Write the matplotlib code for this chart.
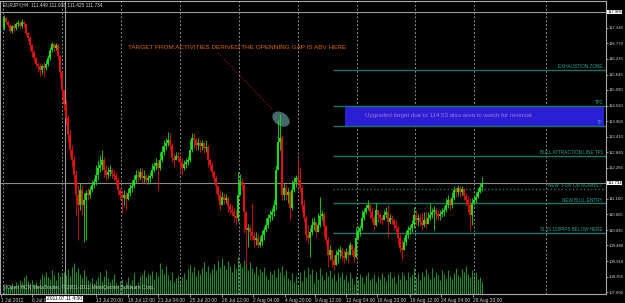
import matplotlib
matplotlib.use("Agg")
import matplotlib.pyplot as plt
import numpy as np
from matplotlib.patches import Rectangle, Ellipse
from matplotlib.transforms import ScaledTranslation, blended_transform_factory

plt.rcParams['font.family'] = ['Liberation Sans Narrow', 'Liberation Sans', 'DejaVu Sans']

# EURJPY H4, 1 Jul 2011 .. 26 Aug 2011
first_open = 117.33
closes = [
    117.69, 117.55, 117.44, 117.22, 117.40, 117.33, 117.47, 117.51, 117.40, 117.55,
    117.47, 117.15, 116.97, 116.72, 116.46, 116.25, 116.03, 115.96, 115.81, 115.96,
    115.89, 116.03, 116.25, 116.54, 116.75, 116.61, 116.72, 116.32, 115.74, 115.09,
    114.59, 114.08, 113.47, 112.93, 112.56, 112.02, 111.30, 110.94, 111.48, 110.94,
    111.12, 111.37, 111.30, 111.48, 111.66, 111.77, 112.02, 112.28, 112.38, 112.56,
    112.20, 112.02, 112.13, 112.20, 112.06, 111.99, 111.84, 111.48, 111.30, 111.19,
    111.30, 111.16, 111.37, 111.55, 111.63, 111.84, 112.02, 111.95, 112.13, 111.91,
    111.99, 111.84, 111.91, 111.99, 112.20, 112.35, 112.46, 112.28, 112.56, 112.85,
    113.07, 113.18, 113.29, 113.11, 112.64, 112.56, 112.71, 112.64, 112.49, 112.28,
    112.42, 112.49, 112.56, 112.93, 113.36, 113.29, 113.11, 113.18, 113.07, 113.18,
    113.00, 113.03, 112.56, 112.38, 112.13, 111.91, 111.63, 111.30, 110.94, 111.23,
    111.12, 111.19, 110.90, 110.76, 110.69, 110.54, 110.47, 111.30, 111.77, 111.66,
    110.69, 110.04, 110.11, 109.97, 109.82, 109.68, 109.75, 109.50, 109.60, 109.86,
    110.04, 110.22, 110.47, 110.58, 110.69, 110.94, 112.20, 113.21, 113.36, 111.30,
    111.55, 111.30, 111.41, 110.83, 111.48, 111.77, 111.91, 111.84, 111.55, 110.94,
    110.47, 109.86, 109.75, 109.97, 110.22, 110.33, 109.97, 110.22, 110.54, 110.61,
    110.18, 109.68, 109.13, 109.32, 108.95, 108.77, 109.13, 109.24, 109.32, 109.10,
    109.03, 109.24, 109.13, 109.50, 109.32, 109.06, 109.75, 109.97, 110.11, 110.47,
    110.69, 110.83, 110.94, 110.69, 110.47, 110.22, 110.76, 110.58, 110.47, 110.40,
    110.58, 110.69, 110.33, 110.47, 110.40, 110.22, 110.11, 109.75, 109.39, 109.32,
    109.60, 109.86, 110.04, 110.11, 110.25, 110.58, 110.40, 110.47, 110.33, 110.22,
    110.40, 110.25, 110.47, 110.58, 110.69, 110.76, 110.61, 110.54, 110.61, 110.69,
    110.76, 110.94, 111.12, 110.94, 111.19, 111.48, 111.41, 111.55, 111.41, 111.52,
    111.26, 111.12, 110.94, 110.58, 111.01, 111.12, 111.23, 111.41, 111.59, 111.73,
]
highs = [
    117.80, 117.73, 117.62, 117.47, 117.44, 117.51, 117.55, 117.62, 117.58, 117.65,
    117.58, 117.51, 117.18, 117.04, 116.75, 116.54, 116.28, 116.10, 116.07, 116.03,
    116.10, 116.17, 116.36, 116.64, 116.82, 116.79, 116.79, 116.75, 116.36, 115.81,
    114.80, 114.73, 114.19, 113.65, 113.11, 112.74, 112.20, 111.66, 111.73, 111.66,
    111.37, 111.48, 111.55, 111.63, 111.84, 111.91, 112.38, 112.56, 112.74, 112.93,
    112.67, 112.38, 112.31, 112.38, 112.28, 112.20, 112.13, 111.95, 111.55, 111.48,
    111.48, 111.41, 111.55, 111.70, 111.84, 112.02, 112.20, 112.20, 112.28, 112.28,
    112.20, 112.06, 112.02, 112.13, 112.46, 112.49, 112.64, 112.56, 112.85, 113.07,
    113.29, 113.36, 113.58, 113.54, 113.18, 112.82, 112.85, 112.85, 112.71, 112.64,
    112.56, 112.64, 112.71, 113.29, 113.54, 113.54, 113.36, 113.36, 113.29, 113.29,
    113.21, 113.29, 113.11, 112.64, 112.49, 112.20, 112.02, 111.66, 111.48, 111.41,
    111.37, 111.34, 111.26, 111.01, 110.94, 110.83, 110.76, 112.13, 112.06, 111.91,
    111.73, 110.76, 110.25, 110.22, 111.01, 109.97, 109.97, 109.93, 109.82, 110.04,
    110.18, 110.47, 110.61, 110.76, 110.83, 111.12, 112.38, 114.01, 114.22, 113.47,
    111.73, 111.66, 111.55, 111.48, 111.84, 111.95, 112.02, 112.67, 112.31, 111.66,
    111.12, 110.58, 110.22, 110.11, 110.47, 110.51, 110.33, 110.65, 111.23, 110.76,
    110.69, 110.22, 109.79, 109.50, 109.32, 109.13, 109.32, 109.39, 109.46, 109.42,
    109.32, 109.39, 109.32, 109.60, 109.53, 109.42, 110.15, 110.18, 110.22, 110.76,
    110.83, 110.98, 111.12, 110.98, 110.83, 110.58, 111.01, 110.76, 110.65, 110.58,
    110.76, 110.87, 110.94, 110.61, 110.58, 110.47, 110.40, 110.18, 109.89, 109.68,
    109.79, 110.04, 110.18, 110.22, 110.40, 110.87, 110.76, 110.61, 110.61, 110.69,
    110.69, 110.69, 110.69, 111.01, 110.83, 110.90, 110.83, 110.76, 110.76, 110.83,
    110.90, 111.19, 111.30, 111.19, 111.41, 111.63, 111.59, 111.66, 111.63, 111.63,
    111.55, 111.37, 111.26, 111.19, 111.19, 111.26, 111.41, 111.55, 111.73, 111.94,
]
lows = [
    117.26, 117.47, 117.37, 117.15, 117.15, 117.22, 117.26, 117.37, 117.33, 117.33,
    117.37, 117.08, 116.86, 116.54, 116.28, 116.10, 115.92, 115.74, 115.60, 115.67,
    115.56, 115.81, 115.96, 116.17, 116.46, 116.50, 116.54, 116.17, 115.52, 114.80,
    114.37, 113.83, 113.21, 112.67, 112.31, 111.66, 110.58, 109.68, 110.76, 110.58,
    109.60, 109.68, 111.12, 111.19, 111.41, 111.55, 111.66, 111.84, 112.13, 112.20,
    111.95, 111.84, 111.91, 111.99, 111.91, 111.84, 111.66, 111.30, 111.12, 110.65,
    110.94, 110.76, 111.12, 111.26, 111.41, 111.55, 111.73, 111.77, 111.84, 111.73,
    111.77, 111.70, 111.70, 111.77, 111.91, 112.13, 112.20, 111.48, 112.20, 112.49,
    112.74, 112.93, 113.07, 112.93, 112.49, 112.31, 112.56, 112.49, 112.09, 112.02,
    112.20, 112.28, 112.38, 112.49, 112.85, 113.00, 112.93, 112.93, 112.85, 112.93,
    112.82, 112.85, 112.31, 112.20, 111.99, 111.77, 111.37, 111.12, 110.76, 110.94,
    110.98, 111.01, 110.69, 110.61, 110.54, 110.33, 110.22, 110.33, 111.48, 111.48,
    109.93, 108.70, 109.42, 109.68, 109.68, 109.42, 109.50, 109.39, 109.42, 109.50,
    109.68, 109.97, 110.11, 110.33, 110.40, 110.54, 110.76, 112.20, 112.93, 111.12,
    111.12, 111.12, 111.01, 110.40, 110.76, 111.41, 111.59, 111.66, 111.41, 110.69,
    110.33, 109.68, 109.53, 109.06, 109.86, 110.04, 109.79, 110.04, 110.15, 110.40,
    109.79, 109.50, 108.70, 108.95, 108.70, 108.59, 108.77, 108.85, 109.03, 108.95,
    108.85, 108.95, 108.85, 109.13, 109.13, 108.88, 109.03, 109.68, 109.82, 110.04,
    110.40, 110.61, 110.76, 110.47, 110.33, 110.04, 110.18, 110.33, 110.29, 110.25,
    110.40, 110.47, 109.79, 110.25, 110.25, 110.04, 109.97, 109.50, 109.24, 108.95,
    109.32, 109.50, 109.75, 109.89, 109.97, 110.11, 110.22, 110.18, 110.18, 110.04,
    110.15, 110.11, 110.25, 110.40, 110.47, 110.04, 110.40, 110.40, 110.40, 110.51,
    110.54, 110.69, 110.83, 110.76, 110.83, 111.12, 111.23, 111.26, 111.23, 111.30,
    111.12, 110.90, 110.69, 110.04, 110.22, 110.94, 111.01, 111.19, 111.37, 111.43,
]
# tick volume (relative)
volumes = [
    8, 10, 7, 9, 11, 8, 12, 10, 14, 12,
    17, 19, 13, 11, 14, 10, 12, 9, 15, 20,
    18, 22, 17, 15, 24, 19, 14, 22, 18, 20,
    22, 19, 25, 18, 27, 31, 22, 26, 20, 16,
    24, 18, 14, 12, 16, 11, 14, 17, 22, 13,
    18, 24, 16, 12, 15, 20, 11, 9, 13, 15,
    8, 12, 17, 10, 14, 22, 9, 12, 18, 20,
    24, 17, 21, 19, 23, 15, 22, 18, 31, 25,
    20, 28, 19, 14, 22, 12, 16, 19, 13, 17,
    21, 15, 25, 29, 22, 27, 18, 24, 20, 26,
    32, 23, 28, 21, 25, 30, 24, 34, 27, 36,
    29, 25, 33, 28, 22, 30, 26, 37, 31, 27,
    34, 29, 24, 32, 26, 21, 28, 19, 25, 22,
    27, 18, 15, 23, 20, 24, 17, 26, 22, 28,
    19, 24, 16, 14, 21, 12, 18, 9, 22, 13,
    24, 17, 27, 20, 25, 11, 22, 15, 26, 19,
    14, 22, 18, 24, 16, 20, 13, 21, 17, 22,
    15, 19, 12, 21, 16, 10, 18, 14, 20, 17,
    11, 19, 22, 14, 16, 20, 12, 18, 15, 21,
    17, 13, 20, 22, 16, 18, 11, 20, 15, 22,
    19, 14, 22, 17, 20, 26, 16, 21, 14, 22,
    18, 25, 20, 15, 26, 17, 22, 19, 14, 24,
    20, 16, 24, 18, 15, 21, 26, 19, 17, 25,
    22, 28, 20, 17, 24, 19, 22, 15, 17, 12,
]

time_labels = ["1 Jul 2011", "6 Jul 04:00", "13 Jul 20:00", "18 Jul 12:00", "21 Jul 04:00",
               "25 Jul 20:00", "28 Jul 12:00", "2 Aug 04:00", "4 Aug 20:00", "9 Aug 12:00",
               "12 Aug 04:00", "16 Aug 20:00", "19 Aug 12:00", "24 Aug 04:00", "26 Aug 20:00"]
time_label_bars = [-1.5, 14, 46, 62, 77, 93, 109, 124.5, 140.5, 155.5, 171, 186.5, 203, 218.5, 234.5]
price_ticks = [117.340, 116.770, 116.215, 115.645, 115.090, 114.520, 113.960, 113.410, 112.840,
               112.285, 111.160, 110.605, 110.035, 109.480, 108.910, 108.355, 107.800]

# drawn objects on the chart
level_names = ["EXHAUSTION ZONE", "TP2", "TP", "BULL ATTRACTION LINE TP1",
               'NEW "FOR OR AGAINST"', "NEW BULL ENTRY", "SL IS 150PIPS BELOW HERE"]
level_prices = [115.81, 114.53, 113.79, 112.71, 111.52, 111.01, 109.93]
high_line = 117.905
bid = 111.734
quote = "EURJPY,H4  111.449 111.938 111.425 111.734"
marked_time = "2011.07.11 4:00"

BULL = '#12e012'
BEAR = '#e21010'
TEAL = '#1d7466'
TEAL_TXT = '#2aa894'
GRAY = '#8c8c8c'
SMALL = 3.4
PRICE_FS = 3.05

fig = plt.figure(figsize=(6.25, 3.03), dpi=100, facecolor='black')
ax = fig.add_axes([0, 9 / 303, 606 / 625, 293 / 303])
axv = ax.twinx()
ax.set_zorder(axv.get_zorder() + 1)
ax.patch.set_visible(False)

n = len(closes)
idx = np.arange(n)
c = np.array(closes)
o = np.concatenate([[first_open], c[:-1]])
h = np.maximum(np.array(highs), np.maximum(o, c))
l = np.minimum(np.array(lows), np.minimum(o, c))
cols = np.where(c >= o, BULL, BEAR)

ax.set_xlim(-2, 301)
ax.set_ylim(107.73, 118.30)
axv.set_ylim(0, 293)

# volume
axv.vlines(idx, 0, volumes, colors='#1f8a2c', lw=0.8)
axv.set_yticks([])
for s in axv.spines.values():
    s.set_visible(False)

# grid
for g in [-0.5, 29, 58.5, 88, 117.5, 147, 176.5, 205.5, 235, 271]:
    ax.axvline(g, color=GRAY, lw=0.7, ls=(0, (2, 2)), zorder=1)
ax.axvline(30.25, color='#9a9a9a', lw=0.8, zorder=1)
ax.axhline(high_line, color='#9a9a9a', lw=0.8, zorder=1)
ax.axhline(bid, color='#8a8a8a', lw=0.8, zorder=1)

# objects: levels, rectangle, ellipse, arrow line
ax.add_patch(Rectangle((170.5, level_prices[2]), 300 - 170.5,
                       level_prices[1] - level_prices[2], facecolor='#2b1fd6',
                       edgecolor='none', zorder=1.5))
for name, p in zip(level_names, level_prices):
    ls = ':' if name.startswith('NEW "') else '-'
    ax.hlines(p, 164.5, 301, colors=TEAL, lw=1.0, ls=ls, zorder=2)
    ax.text(299.5, p + 0.02, name, color=TEAL_TXT if name != "TP" else '#3a9ad0',
            fontsize=3.3, ha='right', va='bottom', zorder=5)
ax.text(180.5, (level_prices[1] + level_prices[2]) / 2,
        "Upgraded target due to 114.53 also area to watch for reversal",
        color='#a872cc', fontsize=4.45, ha='left', va='center', zorder=5)

ell = Ellipse((0, 0), 0.19, 0.13, angle=-35, facecolor='#44686b', edgecolor='none',
              transform=fig.dpi_scale_trans + ScaledTranslation(138.5, 114.04, ax.transData),
              zorder=2)
ax.add_patch(ell)
ax.plot([107, 134.5], [116.43, 114.37], color='#a81010', lw=0.8, ls=':', zorder=2)
ax.text(62, 116.61, "TARGET FROM ACTIVITIES DERIVED THE OPENNING GAP IS ABV HERE",
        color='#e06a00', fontsize=4.6, ha='left', va='center', zorder=5)

# candles
ax.vlines(idx, l, h, colors=cols, lw=0.6, zorder=3)
ax.bar(idx, np.abs(c - o), bottom=np.minimum(o, c), width=0.8, color=cols,
       linewidth=0, zorder=3)

# texts
ax.text(0.005, 0.986, quote, transform=ax.transAxes, color='#d8d8d8', fontsize=SMALL,
        ha='left', va='center', zorder=6)
ax.text(0.005, 0.012, "\u00a9Open HCN MetaTrader, \u00a9 2001-2011 MetaQuotes Software Corp.",
        transform=ax.transAxes, color='#c8c8c8', fontsize=3.6, ha='left', va='bottom', zorder=6)

# axes styling
for s in ax.spines.values():
    s.set_color('#a8a8a8')
    s.set_linewidth(0.8)
ax.yaxis.tick_right()
ax.set_yticks(price_ticks)
ax.set_yticklabels([f"{p:.3f}" for p in price_ticks])
ax.tick_params(axis='y', direction='out', length=1.5, width=0.6, color='#a8a8a8',
               labelcolor='#d0d0d0', labelsize=PRICE_FS, pad=0.4)
ax.set_xticks(time_label_bars)
ax.set_xticklabels(time_labels)
ax.tick_params(axis='x', direction='out', length=2.5, width=0.6, color='#a8a8a8',
               labelcolor='#d0d0d0', labelsize=3.5, pad=0.3)
for lab in ax.get_xticklabels():
    lab.set_ha('left')

trx = blended_transform_factory(ax.transData, ax.transAxes)
ax.text(30.25, -0.008, marked_time, transform=trx, color='black', fontsize=3.5,
        ha='center', va='top', bbox=dict(facecolor='white', edgecolor='none', pad=0.6),
        zorder=7, clip_on=False)
trr = blended_transform_factory(ax.transAxes, ax.transData)
for p in (high_line, bid):
    ax.text(1.002, p, f"{p:.3f}", transform=trr, color='black', fontsize=PRICE_FS,
            ha='left', va='center', bbox=dict(facecolor='white', edgecolor='none', pad=0.3),
            zorder=7, clip_on=False)

fig.savefig("out.png", dpi=100, facecolor='black')
